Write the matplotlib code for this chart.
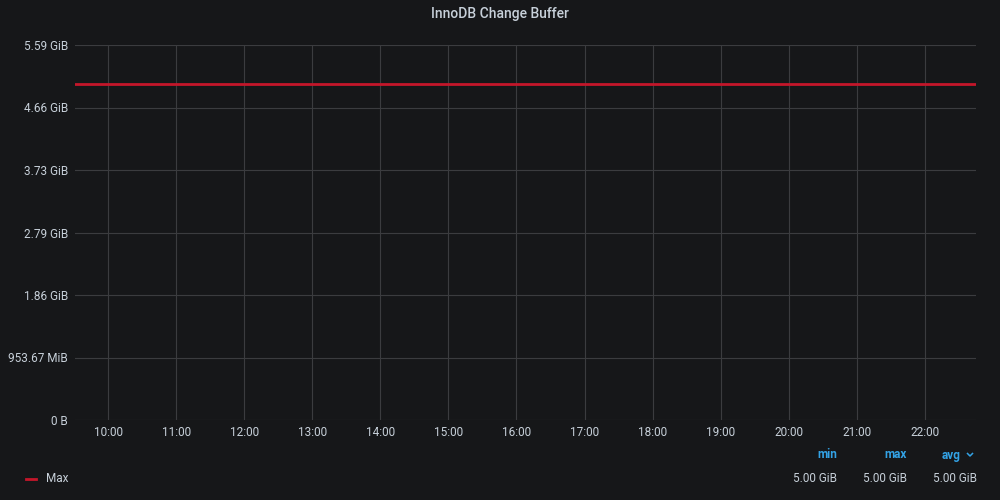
import matplotlib.pyplot as plt
import matplotlib.dates as mdates
from matplotlib.ticker import FixedLocator
import datetime as dt

plt.rcParams['font.family'] = ['Roboto', 'DejaVu Sans']

# hours of the day shown on the panel, and the series sampled at those times
hours = [9.5, 10, 11, 12, 13, 14, 15, 16, 17, 18, 19, 20, 21, 22, 22.75]
max_gib = [5.0, 5.0, 5.0, 5.0, 5.0, 5.0, 5.0, 5.0, 5.0, 5.0, 5.0, 5.0, 5.0, 5.0, 5.0]

y_ticks_bytes = [0, 1e9, 2e9, 3e9, 4e9, 5e9, 6e9]
y_tick_labels = ["0 B", "953.67 MiB", "1.86 GiB", "2.79 GiB", "3.73 GiB", "4.66 GiB", "5.59 GiB"]

stat_names = ["min", "max", "avg"]
stat_values = ["5.00 GiB", "5.00 GiB", "5.00 GiB"]

BG = "#161719"
GRID = "#3b3c3f"
TEXT = "#c7d0d9"
RED = "#c4162a"
BLUE = "#33a2e5"

day = dt.datetime(2024, 1, 1)
times = [day + dt.timedelta(hours=h) for h in hours]
values = [v * 1024 ** 3 for v in max_gib]

fig = plt.figure(figsize=(10, 5), dpi=100, facecolor=BG)
ax = fig.add_axes([0.075, 0.16, 0.901, 0.75])
ax.set_facecolor(BG)

ax.plot(times, values, color=RED, linewidth=2)

ax.set_xlim(day + dt.timedelta(hours=9.515), day + dt.timedelta(hours=22.75))
ax.set_ylim(0, 6e9)
ax.yaxis.set_major_locator(FixedLocator(y_ticks_bytes))
ax.set_yticklabels(y_tick_labels)
ax.xaxis.set_major_locator(mdates.HourLocator())
ax.xaxis.set_major_formatter(mdates.DateFormatter("%H:%M"))

ax.grid(True, color=GRID, linewidth=0.8)
ax.set_axisbelow(True)
for s in ax.spines.values():
    s.set_visible(False)
ax.tick_params(colors=TEXT, labelsize=8.5, length=0)
ax.tick_params(axis='x', pad=4)
ax.tick_params(axis='y', pad=5)

fig.text(0.5, 0.972, "InnoDB Change Buffer", color=TEXT, ha='center', va='center', fontsize=10, fontweight='medium')

# legend
fig.lines.append(plt.Line2D([0.026, 0.036], [0.043, 0.043], color=RED, linewidth=2, transform=fig.transFigure))
fig.text(0.046, 0.043, "Max", color=TEXT, ha='left', va='center', fontsize=8.5)
hdr_x = [0.837, 0.907, 0.961]
for name, val, x in zip(stat_names, stat_values, hdr_x):
    fig.text(x, 0.09, name, color=BLUE, ha='right', va='center', fontsize=8.5, fontweight='bold')
for val, x in zip(stat_values, [0.837, 0.907, 0.977]):
    fig.text(x, 0.043, val, color=TEXT, ha='right', va='center', fontsize=8.5)
# sort chevron next to avg
fig.lines.append(plt.Line2D([0.9675, 0.9700, 0.9725], [0.093, 0.088, 0.093], color=BLUE, linewidth=1.1, transform=fig.transFigure))

fig.savefig("out.png", dpi=100, facecolor=BG)
